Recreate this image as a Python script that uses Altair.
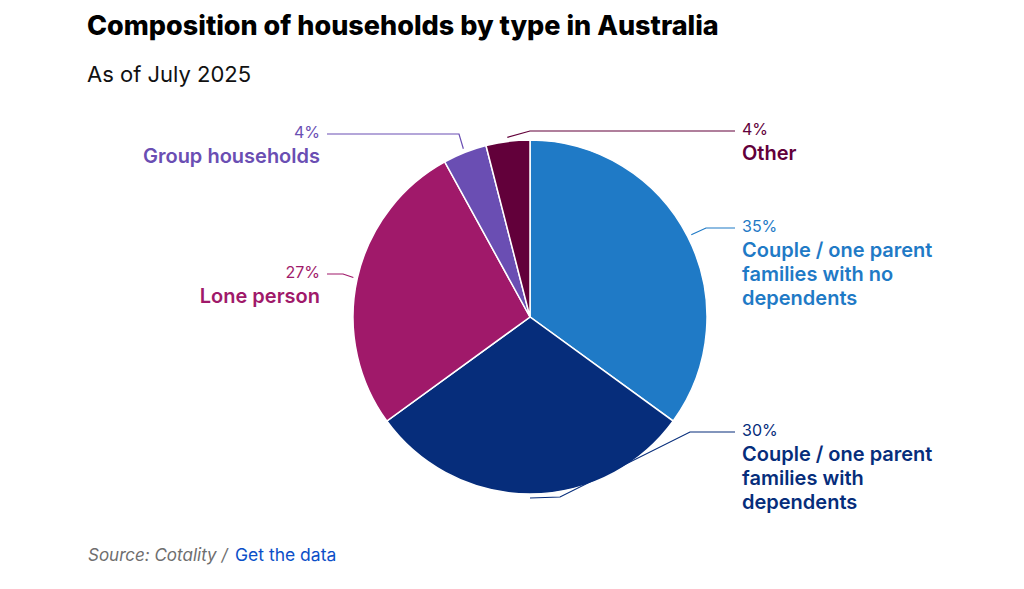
import math
import altair as alt
import pandas as pd

# ---------------- data ----------------
categories = [
    "Couple / one parent families with no dependents",
    "Couple / one parent families with dependents",
    "Lone person",
    "Group households",
    "Other",
]
label_text = [
    "Couple / one parent\nfamilies with no\ndependents",
    "Couple / one parent\nfamilies with\ndependents",
    "Lone person",
    "Group households",
    "Other",
]
shares = [35, 30, 27, 4, 4]
slice_colors = ["#1F7AC6", "#062D7B", "#A0196A", "#6A4EB3", "#62003A"]
label_colors = ["#1A6FC2", "#0B2B70", "#9B1566", "#5A43B0", "#62003A"]

# ---------------- layout ----------------
W, H = 1024, 589
CX, CY, R = 530, 317, 177
LEADER_R = 181
FONT = "Inter"
# side, horizontal leader y, intermediate elbow points
label_layout = [
    ("right", 228, [(706, 228)]),
    ("right", 432, [(560, 497), (690, 432)]),
    ("left", 274, [(343, 274)]),
    ("left", 134, [(459, 134)]),
    ("right", 131, [(530, 131)]),
]
LINE_END = {"right": 735, "left": 327}
TEXT_X = {"right": 742, "left": 320}

# ---------------- derived tables ----------------
pie_df = pd.DataFrame({"category": categories, "share": shares, "order": range(len(shares))})

total = float(sum(shares))
lead_rows, pct_rows, name_rows = [], [], []
cum = 0.0
for i, (cat, v) in enumerate(zip(categories, shares)):
    mid = (cum + v / 2) / total * 2 * math.pi
    cum += v
    side, ly, elbows = label_layout[i]
    pts = [(CX + LEADER_R * math.sin(mid), CY - LEADER_R * math.cos(mid))]
    pts += elbows
    pts.append((LINE_END[side], ly))
    for k, (px, py) in enumerate(pts):
        lead_rows.append({"category": cat, "seq": k, "px": px, "py": py})
    pct_rows.append({"category": cat, "side": side, "tx": TEXT_X[side], "ty": ly - 1,
                     "pct": f"{v}%"})
    name_rows.append({"category": cat, "side": side, "tx": TEXT_X[side], "ty": ly + 29,
                      "name": label_text[i]})

lead_df = pd.DataFrame(lead_rows)
pct_df = pd.DataFrame(pct_rows)
name_df = pd.DataFrame(name_rows)

slice_scale = alt.Scale(domain=categories, range=slice_colors)
label_scale = alt.Scale(domain=categories, range=label_colors)

pie = alt.Chart(pie_df).mark_arc(outerRadius=R, stroke="white", strokeWidth=1.5).encode(
    theta=alt.Theta("share:Q", stack=True),
    order=alt.Order("order:Q", sort="ascending"),
    color=alt.Color("category:N", scale=slice_scale, legend=None),
    x=alt.value(CX),
    y=alt.value(CY),
)

leaders = alt.Chart(lead_df).mark_line(strokeWidth=1.2).encode(
    x=alt.X("px:Q", scale=None, axis=None),
    y=alt.Y("py:Q", scale=None, axis=None),
    detail="category:N",
    order="seq:Q",
    color=alt.Color("category:N", scale=label_scale, legend=None),
)

def side_text(df, field, side, size, weight, lh=None):
    kw = dict(align="left" if side == "right" else "right", fontSize=size,
              fontWeight=weight, font=FONT)
    if lh:
        kw.update(lineBreak="\n", lineHeight=lh, baseline="alphabetic")
    else:
        kw.update(baseline="middle")
    return alt.Chart(df[df.side == side]).mark_text(**kw).encode(
        x=alt.X("tx:Q", scale=None, axis=None),
        y=alt.Y("ty:Q", scale=None, axis=None),
        text=f"{field}:N",
        color=alt.Color("category:N", scale=label_scale, legend=None),
    )

texts = [
    side_text(pct_df, "pct", "right", 16, 400),
    side_text(pct_df, "pct", "left", 16, 400),
    side_text(name_df, "name", "right", 20, 600, lh=24),
    side_text(name_df, "name", "left", 20, 600, lh=24),
]

base = alt.Chart(pd.DataFrame({"k": [0]}))
title = base.mark_text(text="Composition of households by type in Australia", align="left",
                       baseline="alphabetic", fontSize=27, fontWeight=800, font=FONT,
                       color="#000000").encode(x=alt.value(87), y=alt.value(35))
subtitle = base.mark_text(text="As of July 2025", align="left", baseline="alphabetic",
                          fontSize=22, fontWeight=400, font=FONT, color="#111111").encode(
    x=alt.value(87), y=alt.value(82))
source = base.mark_text(text="Source: Cotality /", align="left", baseline="middle",
                        fontSize=17, fontStyle="italic", font=FONT, color="#6E6E6E").encode(
    x=alt.value(88), y=alt.value(556))
link = base.mark_text(text="Get the data", align="left", baseline="middle",
                      fontSize=17.5, font=FONT, color="#0B4FC8").encode(
    x=alt.value(235), y=alt.value(556))

chart = alt.layer(pie, leaders, *texts, title, subtitle, source, link).properties(
    width=W, height=H, autosize=alt.AutoSizeParams(type="none"), padding=0,
    background="white",
).configure_view(stroke=None)

chart.save("out.html", embed_options={"renderer": "svg", "actions": False})
